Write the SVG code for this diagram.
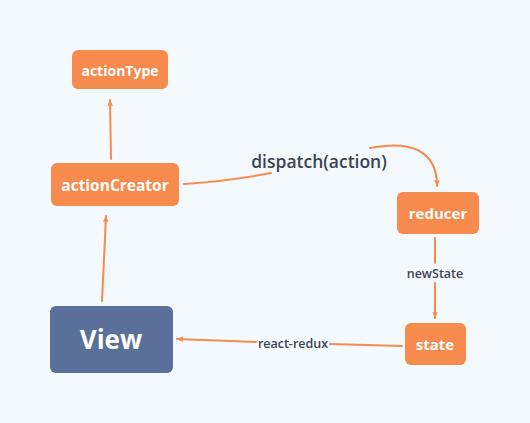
<svg xmlns="http://www.w3.org/2000/svg" width="530" height="423" viewBox="0 0 530 423">
<style>
.n{fill:#f78b4d}
.v{fill:#5a6f99}
.t{font-family:"Open Sans","Liberation Sans",sans-serif;font-weight:700;fill:#fff;text-anchor:middle;dominant-baseline:central}
.c{fill:none;stroke:#f78b4d;stroke-width:2;stroke-linecap:round}
.l{font-family:"Open Sans","Liberation Sans",sans-serif;font-weight:600;fill:#3c4451;text-anchor:middle;dominant-baseline:central}
</style>
<defs>
<marker id="a" viewBox="0 0 10 10" refX="9" refY="5" markerWidth="7" markerHeight="7" orient="auto" markerUnits="userSpaceOnUse">
<path d="M0,1 L10,5 L0,9 L2,5 Z" fill="#f78b4d"/>
</marker>
</defs>
<rect width="530" height="423" fill="#f4f9fd"/>
<g id="connectors">
<path class="c" d="M111,159 L110,100" marker-end="url(#a)"/>
<path class="c" d="M102,301 L106,216" marker-end="url(#a)"/>
<path class="c" d="M184,184 C215,182 245,178 271,173"/>
<path class="c" d="M370,148 C410,140 437,150 437,186" marker-end="url(#a)"/>
<path class="c" d="M435,238 L435,263"/>
<path class="c" d="M435,283 L435,318" marker-end="url(#a)"/>
<path class="c" d="M402,346 L330,344"/>
<path class="c" d="M256,342 L177,339" marker-end="url(#a)"/>
<text class="l" x="319" y="161" font-size="17.5">dispatch(action)</text>
<text class="l" x="435" y="273" font-size="12.5">newState</text>
<text class="l" x="293" y="343" font-size="12.5">react-redux</text>
</g>
<g id="actionType"><rect class="n" x="72" y="50" width="96" height="39" rx="6"/><text class="t" x="120" y="70" font-size="14">actionType</text></g>
<g id="actionCreator"><rect class="n" x="51" y="163" width="128" height="43" rx="6"/><text class="t" x="115" y="185" font-size="15.5">actionCreator</text></g>
<g id="reducer"><rect class="n" x="397" y="192" width="82" height="42" rx="6"/><text class="t" x="438" y="213" font-size="15">reducer</text></g>
<g id="state"><rect class="n" x="405" y="323" width="61" height="42" rx="6"/><text class="t" x="435" y="344" font-size="15">state</text></g>
<g id="View"><rect class="v" x="50" y="306" width="123" height="67" rx="6"/><text class="t" x="111" y="339" font-size="26">View</text></g>
</svg>
